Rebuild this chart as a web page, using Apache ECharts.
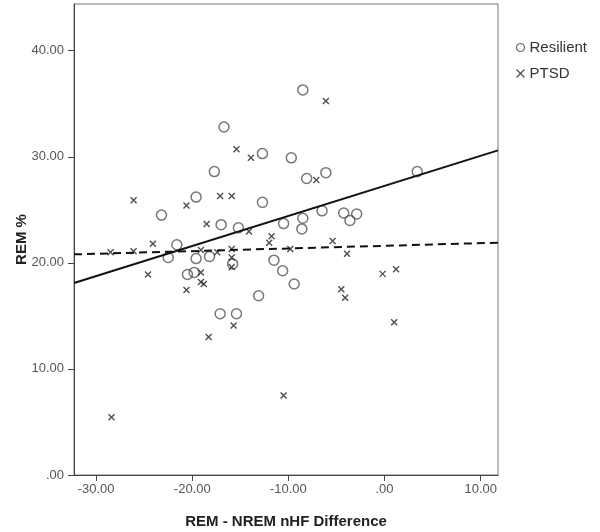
<!DOCTYPE html>
<html>
<head>
<meta charset="utf-8">
<script src="https://cdn.jsdelivr.net/npm/echarts@6/dist/echarts.min.js"></script>
<style>html,body{margin:0;padding:0;background:#fff}#c{width:600px;height:532px}</style>
</head>
<body>
<div id="c"></div>
<script>
// Resilient group: [REM - NREM nHF difference, REM %]
var resilient = [
  [-8.5, 36.3], [-16.7, 32.8], [-12.7, 30.3], [-9.7, 29.9], [-17.7, 28.6],
  [-8.1, 27.95], [-6.1, 28.5], [3.4, 28.6], [-19.6, 26.2], [-12.7, 25.7],
  [-23.2, 24.5], [-17.0, 23.6], [-15.2, 23.3], [-10.5, 23.7], [-8.5, 24.2],
  [-8.6, 23.2], [-6.5, 24.9], [-4.25, 24.7], [-2.9, 24.6], [-3.6, 24.0],
  [-21.6, 21.7], [-22.5, 20.5], [-19.6, 20.4], [-18.2, 20.6], [-15.8, 19.9],
  [-11.5, 20.25], [-10.6, 19.25], [-9.4, 18.0], [-20.5, 18.9], [-19.8, 19.1],
  [-13.1, 16.9], [-17.1, 15.2], [-15.4, 15.2]
];
// PTSD group
var ptsd = [
  [-26.1, 25.9], [-20.6, 25.4], [-17.1, 26.3], [-15.9, 26.3], [-15.4, 30.7],
  [-13.9, 29.9], [-18.5, 23.65], [-14.1, 22.95], [-11.75, 22.5], [-12.0, 21.9],
  [-24.1, 21.8], [-28.5, 21.0], [-26.1, 21.1], [-19.1, 21.2], [-17.4, 21.0],
  [-15.9, 21.3], [-15.9, 20.5], [-15.9, 19.6], [-24.6, 18.9], [-19.1, 19.1],
  [-19.1, 18.2], [-18.8, 18.0], [-20.6, 17.45], [-15.7, 14.1], [-18.3, 13.0],
  [-10.5, 7.5], [-28.4, 5.45], [-6.1, 35.25], [-7.1, 27.8], [-5.4, 22.05],
  [-9.8, 21.3], [-3.9, 20.85], [-0.2, 18.96], [1.2, 19.4], [-4.5, 17.5],
  [-4.1, 16.7], [1.0, 14.4]
];
// Fit lines (endpoints at axis extent)
var fitX = [-32.3, 11.8];
var resilientFit = [18.1, 30.6];
var ptsdFit = [20.8, 21.9];
// Ticks
var xTicks = [-30, -20, -10, 0, 10];
var yTicks = [0, 10, 20, 30, 40];

function fmt(v) {
  var s = Number(v).toFixed(2);
  return s.replace(/^(-?)0\./, '$1.');
}
var crossPath = 'path://M0,0L10,10M10,0L0,10';
var chart = echarts.init(document.getElementById('c'), null, {renderer: 'canvas'});
var font = '"Liberation Sans", Arial, sans-serif';
chart.setOption({
  animation: false,
  backgroundColor: '#fff',
  textStyle: {fontFamily: font},
  grid: {left: 74, right: 102, top: 4, bottom: 57, show: true, borderColor: '#777', borderWidth: 1,
         containLabel: false, outerBoundsMode: 'none'},
  legend: {
    orient: 'vertical', left: 509, top: 35, itemGap: 11, itemWidth: 8, itemHeight: 8,
    textStyle: {fontSize: 15, color: '#333', fontFamily: font},
    data: [
      {name: 'Resilient', icon: 'circle', itemStyle: {color: 'none', borderColor: '#444', borderWidth: 1.2}},
      {name: 'PTSD', icon: crossPath, itemStyle: {color: 'none', borderColor: '#222', borderWidth: 1.2}}
    ]
  },
  xAxis: {
    type: 'value', min: fitX[0], max: fitX[1],
    name: 'REM - NREM nHF Difference', nameLocation: 'middle', nameGap: 39, nameMoveOverlap: false,
    nameTextStyle: {fontSize: 15, fontWeight: 'bold', color: '#222', fontFamily: font},
    axisLine: {show: true, onZero: false, lineStyle: {color: '#444', width: 1}},
    axisTick: {show: true, length: 6, inside: false, customValues: xTicks, lineStyle: {color: '#444'}},
    axisLabel: {customValues: xTicks, formatter: fmt, fontSize: 13, color: '#555', margin: 8},
    splitLine: {show: false}
  },
  yAxis: {
    type: 'value', min: 0, max: 44.4,
    name: 'REM %', nameLocation: 'middle', nameGap: 45, nameRotate: 90, nameMoveOverlap: false,
    nameTextStyle: {fontSize: 15, fontWeight: 'bold', color: '#222', fontFamily: font},
    axisLine: {show: true, onZero: false, lineStyle: {color: '#444', width: 1}},
    axisTick: {show: true, length: 6, customValues: yTicks, lineStyle: {color: '#444'}},
    axisLabel: {customValues: yTicks, formatter: fmt, fontSize: 13, color: '#555', margin: 10},
    splitLine: {show: false}
  },
  series: [
    {
      name: 'Resilient', type: 'scatter', data: resilient, symbol: 'circle', symbolSize: 10,
      itemStyle: {color: 'none', borderColor: '#555', borderWidth: 1.5}, z: 2
    },
    {
      name: 'PTSD', type: 'scatter', data: ptsd, symbol: crossPath, symbolSize: 6,
      itemStyle: {color: 'none', borderColor: '#222', borderWidth: 1.4}, z: 2
    },
    {
      name: 'ResilientFit', type: 'line', silent: true, showSymbol: false, symbol: 'none',
      data: [[fitX[0], resilientFit[0]], [fitX[1], resilientFit[1]]],
      lineStyle: {color: '#111', width: 2, type: 'solid'}, z: 3
    },
    {
      name: 'PTSDFit', type: 'line', silent: true, showSymbol: false, symbol: 'none',
      data: [[fitX[0], ptsdFit[0]], [fitX[1], ptsdFit[1]]],
      lineStyle: {color: '#111', width: 2, type: [8, 5]}, z: 3
    }
  ]
});
</script>
</body>
</html>
